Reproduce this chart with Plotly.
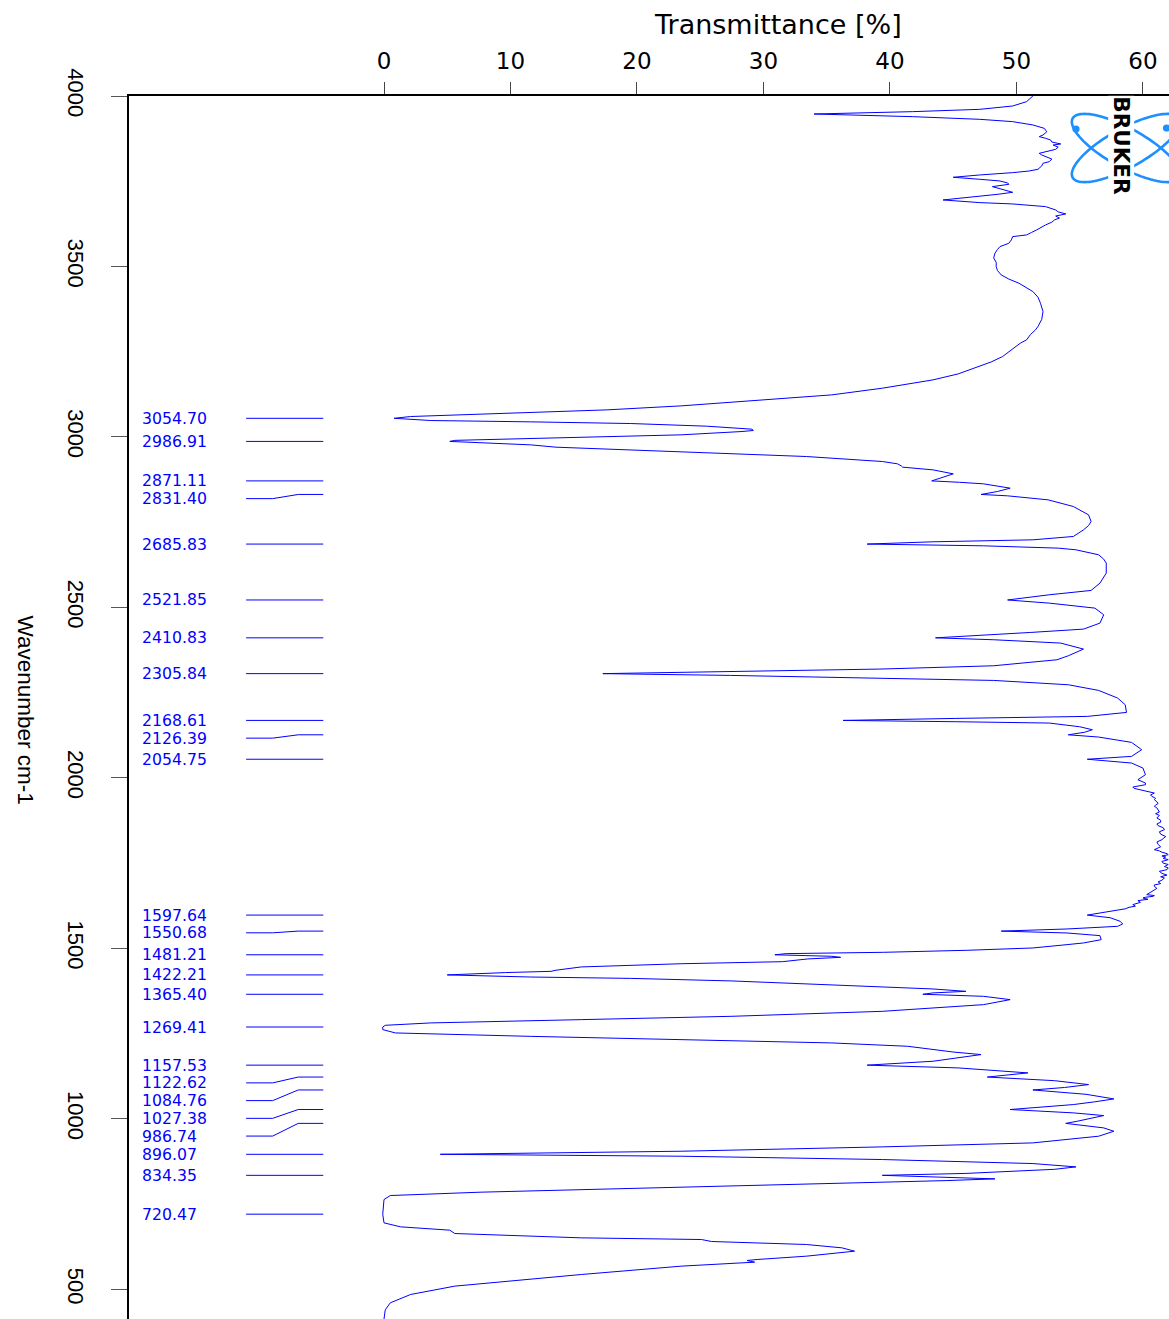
import numpy as np
import plotly.graph_objects as go

# IR spectrum: wavenumber (cm-1) and transmittance (%)
wavenumber = [
    4000, 3990, 3983.4, 3970.7, 3960.9, 3954.1, 3947.2, 3939.4, 3931.6, 3924.8,
    3915, 3905.2, 3895, 3885.7, 3880.8, 3876, 3871, 3865, 3859.3, 3856.3,
    3850, 3843.6, 3836.8, 3831.9, 3827, 3822.1, 3815, 3807.5, 3802.6, 3795,
    3785, 3780, 3775.2, 3768.4, 3761.6, 3755.7, 3750.8, 3745, 3741, 3734.2,
    3726, 3717.6, 3712, 3706.8, 3695.1, 3687.3, 3683.4, 3675.6, 3665.8, 3660,
    3654.1, 3648, 3642, 3636.5, 3630, 3621.8, 3615, 3607.2, 3600, 3592.5,
    3587.6, 3578, 3568.1, 3558.3, 3550, 3538.7, 3525, 3512, 3499.7, 3488,
    3475.2, 3463, 3450.8, 3438, 3426.4, 3410, 3392.2, 3367.7, 3345, 3323.8,
    3314, 3300, 3284.7, 3274.9, 3255, 3235.8, 3220, 3206.5, 3185, 3167.4,
    3155, 3143, 3123.4, 3106.8, 3091.2, 3079.4, 3071.6, 3064.8, 3059.9, 3054.70,
    3050.5, 3048.2, 3044.3, 3039.4, 3031.6, 3022.8, 3019, 3015.9, 3006.2, 2999.3,
    2993.5, 2990, 2986.91, 2983.7, 2976.8, 2970, 2962.2, 2952.4, 2942.6, 2928,
    2921.1, 2915, 2911.4, 2903.5, 2891.8, 2882, 2876, 2871.11, 2867, 2862.5,
    2849.8, 2840, 2831.40, 2827.3, 2815.6, 2796, 2771.6, 2752, 2740, 2727.6,
    2708.1, 2698.3, 2692.5, 2685.83, 2680.7, 2673.9, 2669, 2659.2, 2654.4, 2641.6,
    2629.9, 2600.6, 2571.3, 2549.8, 2537.1, 2521.85, 2512.6, 2498, 2478.4, 2454,
    2436.4, 2426.6, 2416.9, 2410.83, 2405.2, 2395.4, 2377.8, 2358.2, 2346.5, 2328.9,
    2319.2, 2312.3, 2305.84, 2300.6, 2292.8, 2285.9, 2273.2, 2256.6, 2234.1, 2214.6,
    2192.1, 2180.4, 2174.5, 2168.61, 2164.8, 2160.9, 2150, 2141.3, 2134, 2126.39,
    2119.8, 2104.2, 2082.7, 2063.1, 2054.75, 2043.6, 2028.9, 2009.4, 1994.7, 1985,
    1980.1, 1973.2, 1969.3, 1962, 1955.6, 1950, 1946, 1940, 1936.1, 1930,
    1925, 1920, 1917, 1912, 1906.8, 1900, 1895, 1890, 1882.4, 1876,
    1870, 1865, 1860, 1854, 1848.1, 1842, 1835, 1828, 1822, 1818.8,
    1812, 1805, 1798, 1789.5, 1786, 1782, 1778, 1774.8, 1771, 1768,
    1764, 1760.2, 1755, 1750, 1746, 1740, 1736, 1730.9, 1726, 1720,
    1715, 1710, 1706.4, 1700, 1695, 1690, 1686, 1682, 1676, 1670,
    1664, 1657.6, 1655, 1652.7, 1650, 1647.8, 1644, 1640, 1635, 1628.3,
    1624, 1620.4, 1616, 1611.6, 1603, 1597.64, 1590,
    1579.4, 1571.6, 1564.7, 1556.9, 1550.68, 1545.2, 1537.4, 1525.6, 1515.9, 1511,
    1501.2, 1494.4, 1488.5, 1484.6, 1481.21, 1476.8, 1473.8, 1469, 1461, 1455,
    1445.6, 1436, 1432.7, 1429, 1422.21, 1416, 1412, 1404.5, 1398.7, 1388.7,
    1381, 1374, 1369.4, 1365.40, 1359.4, 1349.7, 1335, 1315.4, 1300.8, 1291,
    1281.4, 1274.4, 1269.41, 1261.8, 1252, 1242, 1232.5, 1222.7, 1212.9, 1203.2,
    1196, 1188.5, 1169, 1157.53, 1149.4, 1134.8, 1122.62, 1112, 1100.5, 1092,
    1084.76, 1072, 1058.5, 1050, 1041.9, 1027.38, 1017.5, 1009.7, 1005, 999.9,
    993, 986.74, 980, 973.5, 963.7, 949.1, 929.5, 917.8, 905.1, 896.07,
    890.4, 880.7, 868.9, 859.1, 852, 846.4, 840, 834.35, 829, 824,
    819, 814.2, 800.5, 784.9, 775.1, 763.4, 720.47, 695, 683.3, 673.5,
    663.7, 651, 646.1, 640.3, 631.5, 621.7, 611.9, 597.3, 587.5, 584.6,
    579.7, 568, 543.5, 509.4, 484.9, 460.5, 440, 421.4, 413,
]
transmittance = [
    51.3, 51.0, 50.8, 49.7, 47.1, 41.8, 34.0, 41.8, 47.1, 49.7,
    51.3, 52.2, 52.4, 52.1, 51.8, 52.3, 52.7, 52.8, 53.5, 52.9,
    53.3, 53.1, 52.3, 51.8, 52.0, 52.3, 52.8, 52.6, 52.1, 52.0,
    51.7, 51.0, 49.7, 47.1, 45.0, 47.1, 48.7, 49.3, 49.4, 48.1,
    49.0, 49.7, 48.6, 47.1, 44.2, 47.1, 49.7, 52.3, 53.1, 53.3,
    53.9, 53.1, 53.4, 53.0, 52.8, 52.3, 52.0, 51.6, 51.2, 50.8,
    49.7, 49.6, 49.4, 48.7, 48.5, 48.3, 48.2, 48.4, 48.4, 48.5,
    48.8, 49.4, 50.2, 50.8, 51.3, 51.7, 51.9, 52.1, 52.0, 51.7,
    51.5, 51.1, 50.8, 50.3, 49.6, 48.9, 48.0, 47.0, 45.4, 43.4,
    41.5, 39.4, 35.4, 29.5, 23.5, 17.6, 11.6, 5.6, 2.1, 0.8,
    2.4, 3.7, 11.6, 19.5, 25.5, 29.1, 29.2, 28.3, 23.5, 15.6,
    7.6, 5.6, 5.2, 7.6, 11.6, 13.6, 19.5, 27.5, 33.4, 39.4,
    40.6, 40.9, 41.0, 43.4, 45.0, 44.2, 43.6, 43.3, 45.5, 47.4,
    49.5, 48.5, 47.2, 49.3, 52.5, 54.5, 55.7, 55.9, 55.7, 55.3,
    54.5, 51.3, 43.4, 38.2, 47.4, 53.3, 54.7, 56.1, 56.5, 56.9,
    57.1, 57.1, 56.6, 55.9, 52.6, 49.3, 52.6, 56.2, 56.9, 56.6,
    55.3, 51.1, 46.7, 43.6, 48.2, 53.5, 55.3, 54.1, 53.2, 48.2,
    39.2, 27.4, 17.3, 27.4, 39.2, 48.2, 54.1, 56.5, 58.0, 58.6,
    58.7, 55.6, 45.2, 36.3, 45.2, 52.6, 55.0, 56.0, 55.4, 54.1,
    56.5, 59.1, 59.9, 59.1, 55.6, 59.1, 60.0, 60.2, 59.6, 60.2,
    60.2, 59.2, 59.3, 60.3, 60.9, 60.6, 60.7, 61.0, 60.9, 61.1,
    61.2, 61.0, 60.9, 61.1, 61.2, 61.3, 61.0, 61.3, 61.1, 61.4,
    61.4, 61.1, 61.2, 61.6, 61.7, 61.3, 61.4, 61.8, 61.6, 61.5,
    61.1, 61.2, 61.4, 60.9, 61.3, 61.5, 61.9, 62.0, 61.5, 61.8,
    61.6, 62.0, 61.5, 61.6, 62.0, 61.7, 62.0, 61.9, 61.3, 61.5,
    61.9, 61.4, 61.7, 61.5, 61.2, 61.4, 60.9, 60.9, 61.1, 60.8,
    60.5, 60.3, 60.9, 60.8, 60.2, 60.0, 60.4, 59.6, 59.8, 59.2,
    59.4, 58.9, 58.6, 57.9, 56.6, 55.6, 57.4,
    58.2, 58.4, 58.0, 54.0, 48.8, 54.0, 56.6, 56.7, 55.3, 54.0,
    51.3, 46.1, 39.5, 31.8, 30.9, 35.4, 36.1, 33.5, 31.5, 23.5,
    15.6, 13.6, 13.2, 9.6, 5.0, 11.6, 19.5, 27.5, 31.5, 37.4,
    43.4, 46.0, 43.4, 42.6, 47.4, 49.5, 47.4, 39.4, 27.5, 15.6,
    3.7, 0.1, -0.1, -0.1, 0.9, 11.6, 24.3, 35.4, 41.4, 43.4,
    45.0, 47.2, 43.4, 38.2, 45.4, 50.9, 47.7, 53.0, 55.7, 53.8,
    51.3, 55.5, 57.7, 56.2, 54.5, 49.5, 54.5, 56.9, 56.3, 55.9,
    54.8, 53.9, 55.6, 56.9, 57.7, 56.5, 51.3, 39.4, 23.5, 4.45,
    23.5, 39.4, 51.3, 54.7, 53.0, 50.1, 46.0, 39.4, 44.5, 48.3,
    44.5, 39.4, 23.5, 7.6, 0.5, 0.0, -0.1, 0.0, 1.3, 5.2,
    5.6, 15.6, 25.1, 25.9, 33.4, 36.2, 37.2, 33.4, 29.5, 28.7,
    29.3, 23.5, 15.6, 5.6, 2.1, 0.5, 0.1, 0.0, 0.0,
]

# Picked peaks (cm-1)
peak_wavenumbers = [
    3054.70, 2986.91, 2871.11, 2831.40, 2685.83, 2521.85, 2410.83, 2305.84,
    2168.61, 2126.39, 2054.75, 1597.64, 1550.68, 1481.21, 1422.21, 1365.40,
    1269.41, 1157.53, 1122.62, 1084.76, 1027.38, 986.74, 896.07, 834.35, 720.47,
]

x_ticks = [0, 10, 20, 30, 40, 50, 60]
y_ticks = [500, 1000, 1500, 2000, 2500, 3000, 3500, 4000]

W, H = 1169, 1319
ML, MT = 129, 96
x_range = [-20.16, 62.06]
y_range = [413.0, 4000.0]

BLUE = "#0000ff"
LOGO_BLUE = "#1e8fff"


def px(xp):
    """pixel column -> paper x"""
    return (xp - ML) / (W - ML)


def py(yp):
    """pixel row -> paper y"""
    return 1 - (yp - MT) / (H - MT)


fig = go.Figure()

fig.add_trace(go.Scatter(
    x=transmittance, y=wavenumber, mode="lines",
    line=dict(color=BLUE, width=1), hoverinfo="skip", showlegend=False,
))

# stack peak labels so neighbours keep a minimum spacing
label_gap = 52.0
label_pos = []
for w in peak_wavenumbers:
    p = w if not label_pos else min(w, label_pos[-1] - label_gap)
    label_pos.append(p)

# leader lines: label row -> kink -> peak row
lead_x, lead_y = [], []
for w, p in zip(peak_wavenumbers, label_pos):
    lead_x += [-10.9, -8.8, -6.78, -4.8, None]
    lead_y += [p, p, w, w, None]
fig.add_trace(go.Scatter(
    x=lead_x, y=lead_y, mode="lines",
    line=dict(color=BLUE, width=1), hoverinfo="skip", showlegend=False,
))

annotations = []
for w, p in zip(peak_wavenumbers, label_pos):
    annotations.append(dict(
        x=-19.25, y=p, xref="x", yref="y", text=f"{w:.2f}",
        showarrow=False, xanchor="left", yanchor="middle", borderpad=0,
        font=dict(family="DejaVu Sans", size=15.7, color=BLUE),
    ))

annotations.append(dict(
    x=px(778), y=py(25), xref="paper", yref="paper", text="Transmittance [%]",
    showarrow=False, xanchor="center", yanchor="middle",
    font=dict(family="DejaVu Sans", size=27, color="black"),
))
annotations.append(dict(
    x=px(25), y=py(709.5), xref="paper", yref="paper", text="Wavenumber cm-1",
    showarrow=False, xanchor="center", yanchor="middle", textangle=90,
    font=dict(family="Liberation Sans", size=22.5, color="black"),
))

# Bruker logo: two crossed orbits, electron dots and the name
shapes = []
cx, cy, a, b = 1126.0, 148.0, 61.0, 19.5
t = np.linspace(0, 2 * np.pi, 97)
for ang in (np.radians(29), np.radians(-29)):
    ex = cx + a * np.cos(t) * np.cos(ang) - b * np.sin(t) * np.sin(ang)
    ey = cy + a * np.cos(t) * np.sin(ang) + b * np.sin(t) * np.cos(ang)
    path = "M " + " L ".join(f"{px(u):.5f},{py(v):.5f}" for u, v in zip(ex, ey)) + " Z"
    shapes.append(dict(type="path", path=path, xref="paper", yref="paper",
                       line=dict(color=LOGO_BLUE, width=2.6), layer="above"))
for dx, dy in ((1076.0, 129.0), (1166.5, 128.0)):
    shapes.append(dict(type="circle", xref="paper", yref="paper",
                       x0=px(dx - 3.6), x1=px(dx + 3.6), y0=py(dy + 3.6), y1=py(dy - 3.6),
                       fillcolor=LOGO_BLUE, line=dict(color=LOGO_BLUE, width=0), layer="above"))

annotations.append(dict(
    x=px(1121.7), y=py(146), xref="paper", yref="paper", text="<b>BRUKER</b>",
    showarrow=False, xanchor="center", yanchor="middle", textangle=90,
    bgcolor="white", borderpad=0,
    font=dict(family="DejaVu Sans", size=21.5, color="black"),
))

fig.update_layout(
    width=W, height=H,
    margin=dict(l=ML, r=0, t=MT, b=0, pad=0),
    paper_bgcolor="white", plot_bgcolor="white",
    showlegend=False,
    annotations=annotations,
    shapes=shapes,
    xaxis=dict(
        side="top", range=x_range, tickvals=x_ticks, ticks="outside",
        ticklen=12, tickwidth=1, tickcolor="#444",
        showline=True, linecolor="black", linewidth=1.5,
        showgrid=False, zeroline=False, ticklabelstandoff=4,
        tickfont=dict(family="DejaVu Sans", size=23, color="black"),
    ),
    yaxis=dict(
        range=y_range, tickvals=y_ticks, ticks="outside",
        ticklen=16, tickwidth=1, tickcolor="#555", tickangle=90,
        showline=True, linecolor="black", linewidth=2,
        showgrid=False, zeroline=False, ticklabelstandoff=17,
        tickfont=dict(family="Liberation Sans", size=22, color="black"),
    ),
)

fig.write_html("out.html")
